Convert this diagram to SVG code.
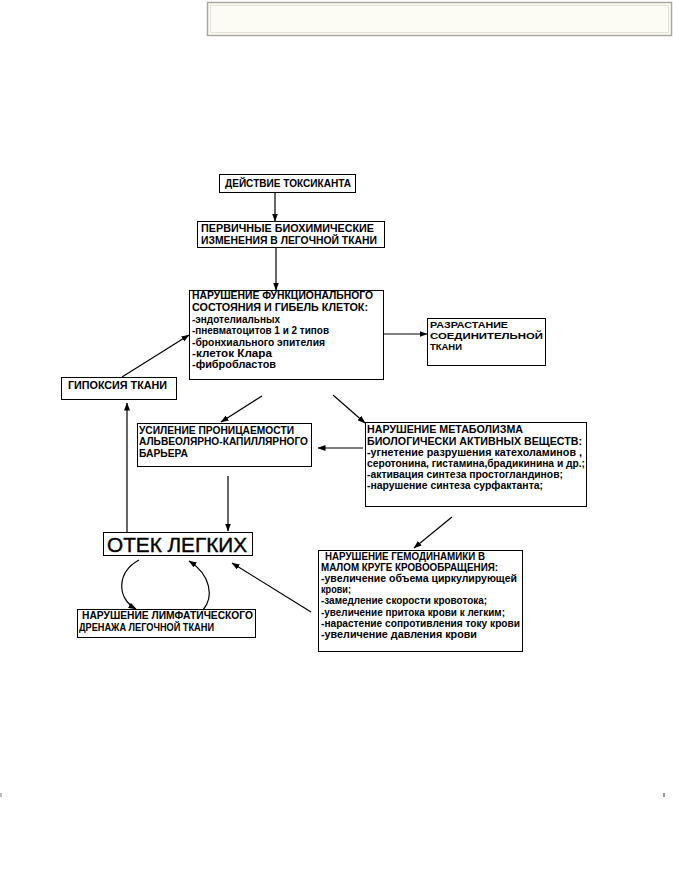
<svg xmlns="http://www.w3.org/2000/svg" width="673" height="887" viewBox="0 0 673 887">
<defs>
<marker id="ah" markerWidth="8" markerHeight="6" refX="7.5" refY="3" orient="auto" markerUnits="userSpaceOnUse">
<path d="M0,0 L8,3 L0,6 Z" fill="#000"/>
</marker>
<style>
.box{fill:#fff;stroke:#000;stroke-width:1}
.t{font-family:"Liberation Sans",Arial,sans-serif;font-size:10.5px;font-weight:bold;fill:#000}
.s{font-size:9.5px}
.big{font-family:"Liberation Sans",Arial,sans-serif;font-size:20px;fill:#000;stroke:#000;stroke-width:0.4}
.ln{fill:none;stroke:#000;stroke-width:1.2;marker-end:url(#ah)}
</style>
</defs>
<rect width="673" height="887" fill="#fff"/>
<g id="header">
<rect x="207.5" y="2.5" width="464" height="33" fill="#fcfcf5" stroke="#a9a9a2" stroke-width="1.5"/>
<rect x="210.5" y="5.5" width="458" height="27" fill="none" stroke="#e2e2da" stroke-width="1"/>
</g>
<g id="n1">
<rect class="box" x="219.5" y="174.5" width="136" height="18"/>
<text class="t" x="225" y="187" textLength="126" lengthAdjust="spacingAndGlyphs">ДЕЙСТВИЕ ТОКСИКАНТА</text>
</g>
<g id="n2">
<rect class="box" x="197.5" y="221.5" width="187" height="26"/>
<text class="t" x="201" y="232" textLength="173" lengthAdjust="spacingAndGlyphs">ПЕРВИЧНЫЕ БИОХИМИЧЕСКИЕ</text>
<text class="t" x="201" y="244" textLength="176" lengthAdjust="spacingAndGlyphs">ИЗМЕНЕНИЯ  В ЛЕГОЧНОЙ ТКАНИ</text>
</g>
<g id="n3">
<rect class="box" x="189.5" y="290.5" width="194" height="89"/>
<text class="t" x="192" y="299" textLength="181" lengthAdjust="spacingAndGlyphs">НАРУШЕНИЕ ФУНКЦИОНАЛЬНОГО</text>
<text class="t" x="192" y="310.5" textLength="176" lengthAdjust="spacingAndGlyphs">СОСТОЯНИЯ  И ГИБЕЛЬ КЛЕТОК:</text>
<text class="t" x="192" y="322.5" textLength="88" lengthAdjust="spacingAndGlyphs">-эндотелиальных</text>
<text class="t" x="192" y="334" textLength="137" lengthAdjust="spacingAndGlyphs">-пневматоцитов 1 и 2 типов</text>
<text class="t" x="192" y="345.5" textLength="133" lengthAdjust="spacingAndGlyphs">-бронхиального эпителия</text>
<text class="t" x="192" y="356.5" textLength="80" lengthAdjust="spacingAndGlyphs">-клеток Клара</text>
<text class="t" x="192" y="367.5" textLength="84" lengthAdjust="spacingAndGlyphs">-фибробластов</text>
</g>
<g id="n4">
<rect class="box" x="427.5" y="318.5" width="118" height="47"/>
<text class="t s" x="430" y="328" textLength="78" lengthAdjust="spacingAndGlyphs">РАЗРАСТАНИЕ</text>
<text class="t s" x="430" y="339" textLength="113" lengthAdjust="spacingAndGlyphs">СОЕДИНИТЕЛЬНОЙ</text>
<text class="t s" x="430" y="350" textLength="32" lengthAdjust="spacingAndGlyphs">ТКАНИ</text>
</g>
<g id="n5">
<rect class="box" x="61.5" y="377.5" width="115" height="22"/>
<text class="t" x="68" y="388.5" textLength="99" lengthAdjust="spacingAndGlyphs">ГИПОКСИЯ ТКАНИ</text>
</g>
<g id="n6">
<rect class="box" x="137.5" y="423.5" width="174" height="43"/>
<text class="t" x="139" y="434" textLength="155" lengthAdjust="spacingAndGlyphs">УСИЛЕНИЕ ПРОНИЦАЕМОСТИ</text>
<text class="t" x="139" y="445" textLength="169" lengthAdjust="spacingAndGlyphs">АЛЬВЕОЛЯРНО-КАПИЛЛЯРНОГО</text>
<text class="t" x="139" y="456.5" textLength="49" lengthAdjust="spacingAndGlyphs">БАРЬЕРА</text>
</g>
<g id="n7">
<rect class="box" x="365.5" y="422.5" width="221" height="84"/>
<text class="t" x="367" y="433" textLength="156" lengthAdjust="spacingAndGlyphs">НАРУШЕНИЕ МЕТАБОЛИЗМА</text>
<text class="t" x="367" y="445" textLength="215" lengthAdjust="spacingAndGlyphs">БИОЛОГИЧЕСКИ АКТИВНЫХ ВЕЩЕСТВ:</text>
<text class="t" x="367" y="456" textLength="215" lengthAdjust="spacingAndGlyphs">-угнетение разрушения катехоламинов ,</text>
<text class="t" x="367" y="467" textLength="218" lengthAdjust="spacingAndGlyphs">серотонина, гистамина,брадикинина и др.;</text>
<text class="t" x="367" y="478" textLength="196" lengthAdjust="spacingAndGlyphs">-активация синтеза простогландинов;</text>
<text class="t" x="367" y="489" textLength="176" lengthAdjust="spacingAndGlyphs">-нарушение синтеза сурфактанта;</text>
</g>
<g id="n8">
<rect class="box" x="103.5" y="532.5" width="149" height="23"/>
<text class="big" x="107" y="552" textLength="140" lengthAdjust="spacingAndGlyphs">ОТЕК ЛЕГКИХ</text>
</g>
<g id="n9">
<rect class="box" x="77.5" y="609.5" width="178" height="28"/>
<text class="t" x="82" y="619" textLength="171" lengthAdjust="spacingAndGlyphs">НАРУШЕНИЕ ЛИМФАТИЧЕСКОГО</text>
<text class="t" x="79" y="631" textLength="135" lengthAdjust="spacingAndGlyphs">ДРЕНАЖА ЛЕГОЧНОЙ ТКАНИ</text>
</g>
<g id="n10">
<rect class="box" x="318.5" y="550.5" width="204" height="101"/>
<text class="t" x="325" y="560" textLength="160" lengthAdjust="spacingAndGlyphs">НАРУШЕНИЕ ГЕМОДИНАМИКИ В</text>
<text class="t" x="321" y="571" textLength="177" lengthAdjust="spacingAndGlyphs">МАЛОМ КРУГЕ КРОВООБРАЩЕНИЯ:</text>
<text class="t" x="321" y="582" textLength="196" lengthAdjust="spacingAndGlyphs">-увеличение объема циркулирующей</text>
<text class="t" x="321" y="593" textLength="30" lengthAdjust="spacingAndGlyphs">крови;</text>
<text class="t" x="321" y="604" textLength="166" lengthAdjust="spacingAndGlyphs">-замедление скорости кровотока;</text>
<text class="t" x="321" y="615.5" textLength="184" lengthAdjust="spacingAndGlyphs">-увеличение притока крови к легким;</text>
<text class="t" x="321" y="627" textLength="199" lengthAdjust="spacingAndGlyphs">-нарастение сопротивления току крови</text>
<text class="t" x="321" y="638" textLength="156" lengthAdjust="spacingAndGlyphs">-увеличение давления крови</text>
</g>
<g id="connectors">
<line class="ln" x1="275" y1="193" x2="275" y2="221"/>
<line class="ln" x1="276" y1="248" x2="276" y2="290"/>
<line class="ln" x1="384" y1="334" x2="427" y2="334"/>
<line class="ln" x1="122" y1="377" x2="189" y2="335"/>
<line class="ln" x1="262" y1="396" x2="221" y2="422"/>
<line class="ln" x1="333" y1="395" x2="365" y2="423"/>
<line class="ln" x1="363" y1="448" x2="318" y2="448"/>
<line class="ln" x1="127" y1="532" x2="127" y2="403"/>
<line class="ln" x1="228" y1="476" x2="228" y2="531"/>
<line class="ln" x1="452" y1="517" x2="414" y2="548"/>
<line class="ln" x1="311" y1="612" x2="232" y2="563"/>
<path class="ln" d="M139,560 C117,572 116,598 136,609"/>
<path class="ln" d="M203,610 C214,597 211,575 189,561"/>
</g>
<rect x="0" y="793" width="2" height="4" fill="#bbb"/>
<rect x="663" y="793" width="2" height="4" fill="#999"/>
</svg>
